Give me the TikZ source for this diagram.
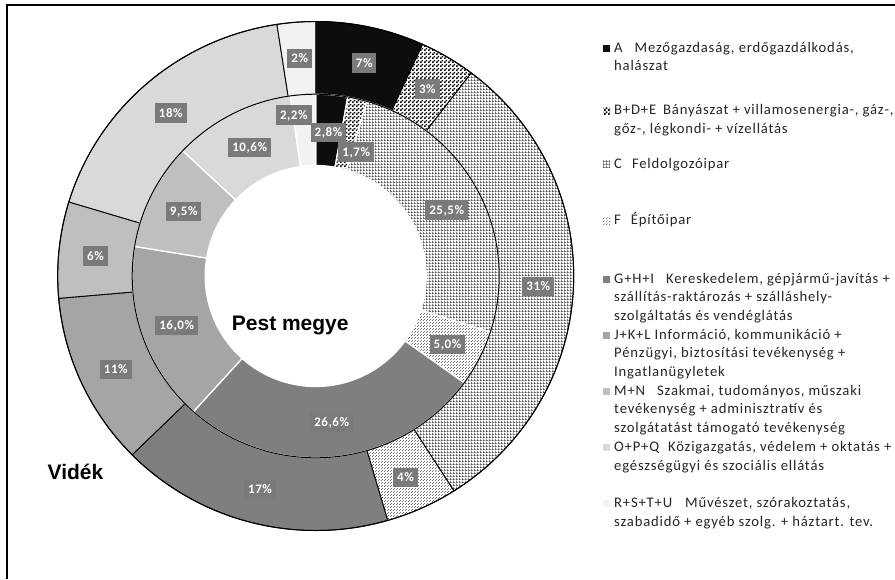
\documentclass[tikz,border=0pt]{standalone}
\usepackage{fontspec}
\setmainfont{Carlito}
\newfontfamily\legfont[LetterSpace=5.5]{Carlito}
\newfontfamily\lblfont[LetterSpace=4]{Carlito}
\newfontfamily\headfont{Liberation Sans}
\usetikzlibrary{patterns}

% fill patterns of the sectors
\pgfdeclarepatternformonly{chk}{\pgfpointorigin}{\pgfqpoint{4pt}{4pt}}{\pgfqpoint{4pt}{4pt}}{%
  \pgfpathrectangle{\pgfpointorigin}{\pgfqpoint{2pt}{2pt}}%
  \pgfpathrectangle{\pgfqpoint{2pt}{2pt}}{\pgfqpoint{2pt}{2pt}}%
  \pgfusepath{fill}}
\pgfdeclarepatternformonly{fgrid}{\pgfpointorigin}{\pgfqpoint{3pt}{3pt}}{\pgfqpoint{3pt}{3pt}}{%
  \pgfpathrectangle{\pgfpointorigin}{\pgfqpoint{0.9pt}{3pt}}%
  \pgfpathrectangle{\pgfpointorigin}{\pgfqpoint{3pt}{0.9pt}}%
  \pgfusepath{fill}}
\pgfdeclarepatternformonly{fdots}{\pgfpointorigin}{\pgfqpoint{3pt}{3pt}}{\pgfqpoint{3pt}{3pt}}{%
  \pgfpathrectangle{\pgfpointorigin}{\pgfqpoint{1.1pt}{1.1pt}}%
  \pgfpathrectangle{\pgfqpoint{1.5pt}{1.5pt}}{\pgfqpoint{1.1pt}{1.1pt}}%
  \pgfusepath{fill}}

\definecolor{cA}{HTML}{0D0D0D}
\definecolor{cG}{HTML}{7F7F7F}
\definecolor{cJ}{HTML}{A5A5A5}
\definecolor{cM}{HTML}{BFBFBF}
\definecolor{cO}{HTML}{D9D9D9}
\definecolor{cR}{HTML}{F2F2F2}
\definecolor{lblgray}{HTML}{7A7A7A}
\definecolor{legtxt}{HTML}{262626}

% ring radii (x and y)
\newcommand\Rox{258}\newcommand\Roy{254.5}
\newcommand\Rmx{183.5}\newcommand\Rmy{181.8}
\newcommand\Rix{110.5}\newcommand\Riy{110.5}

% sector of the outer ring, from #1 % to #2 % clockwise from the top
\newcommand\videkseg[3]{\path[#3] ({90-3.6*(#1)}:\Rox\space and \Roy)
  arc[start angle={90-3.6*(#1)}, end angle={90-3.6*(#2)}, x radius=\Rox, y radius=\Roy]
  -- ({90-3.6*(#2)}:\Rmx\space and \Rmy)
  arc[start angle={90-3.6*(#2)}, end angle={90-3.6*(#1)}, x radius=\Rmx, y radius=\Rmy] -- cycle;}
% sector of the inner ring
\newcommand\pestseg[3]{\path[#3] ({90-3.6*(#1)}:\Rmx\space and \Rmy)
  arc[start angle={90-3.6*(#1)}, end angle={90-3.6*(#2)}, x radius=\Rmx, y radius=\Rmy]
  -- ({90-3.6*(#2)}:\Rix\space and \Riy)
  arc[start angle={90-3.6*(#2)}, end angle={90-3.6*(#1)}, x radius=\Rix, y radius=\Riy] -- cycle;}

\begin{document}
\begin{tikzpicture}[x=1pt, y=1pt,
  fillA/.style={fill=cA},
  fillB/.style={preaction={fill=white}, pattern=chk, pattern color=black},
  fillC/.style={preaction={fill=white}, pattern=fgrid, pattern color=black!72},
  fillF/.style={preaction={fill=white}, pattern=fdots, pattern color=black!55},
  fillG/.style={fill=cG},
  fillJ/.style={fill=cJ},
  fillM/.style={fill=cM},
  fillO/.style={fill=cO},
  fillR/.style={fill=cR},
  outerline/.style={draw=black, line width=0.9pt, line join=round},
  innerline/.style={draw=white, line width=1.3pt, line join=round},
  lbl/.style={fill=lblgray, text=white, font=\lblfont\bfseries\fontsize{13}{15}\selectfont,
    inner xsep=4pt, inner ysep=0pt, minimum height=19.5pt, text height=8.2pt, text depth=0pt},
  legtext/.style={anchor=base west, inner sep=0pt, text=legtxt,
    font=\legfont\fontsize{14.67}{18.7}\selectfont},
  legmark/.style={minimum size=7pt, inner sep=0pt, draw=none},
  headtxt/.style={anchor=base west, inner sep=0pt,
    font=\headfont\bfseries\fontsize{21}{24}\selectfont}]

\useasboundingbox (0,0) rectangle (895,-579);
\fill[white] (0,0) rectangle (895,-579);

% frame
\draw[line width=2pt] (6.7,-579) -- (6.7,-5) -- (895,-5);

\begin{scope}[shift={(315.7,-276)}]
  % outer ring: Vidék
  \videkseg{0}{6.8}{fillA, outerline}
  \videkseg{6.8}{10.3}{fillB, outerline}
  \videkseg{10.3}{41.0}{fillC, outerline}
  \videkseg{41.0}{45.5}{fillF, outerline}
  \videkseg{45.5}{62.6}{fillG, outerline}
  \videkseg{62.6}{73.6}{fillJ, outerline}
  \videkseg{73.6}{79.7}{fillM, outerline}
  \videkseg{79.7}{97.6}{fillO, outerline}
  \videkseg{97.6}{100}{fillR, outerline}
  % inner ring: Pest megye
  \pestseg{0}{2.8}{fillA, innerline}
  \pestseg{2.8}{4.5}{fillB, innerline}
  \pestseg{4.5}{30.0}{fillC, innerline}
  \pestseg{30.0}{35.0}{fillF, innerline}
  \pestseg{35.0}{61.6}{fillG, innerline}
  \pestseg{61.6}{77.6}{fillJ, innerline}
  \pestseg{77.6}{87.1}{fillM, innerline}
  \pestseg{87.1}{97.8}{fillO, innerline}
  \pestseg{97.8}{100}{fillR, innerline}
  % ring outlines
  \draw[line width=1pt] (0,0) ellipse [x radius=\Rmx, y radius=\Rmy];
  \draw[line width=1pt] (0,0) ellipse [x radius=\Rox, y radius=\Roy];
\end{scope}

% data labels, outer ring
\node[lbl] (vA) at (364.2,-63) {7\%};
\node[lbl] (vB) at (427.3,-89.2) {3\%};
\node[lbl] (vC) at (538.3,-286.7) {31\%};
\node[lbl] (vF) at (405.5,-477.5) {4\%};
\node[lbl] (vG) at (260,-489.3) {17\%};
\node[lbl] (vJ) at (115.8,-369.3) {11\%};
\node[lbl] (vM) at (95.5,-256) {6\%};
\node[lbl] (vO) at (170.8,-113) {18\%};
\node[lbl] (vR) at (299.7,-58.3) {2\%};
% data labels, inner ring
\node[lbl] (pA) at (328.5,-132.5) {2,8\%};
\node[lbl] (pB) at (356.2,-152.2) {1,7\%};
\node[lbl] (pC) at (446.7,-210) {25,5\%};
\node[lbl] (pF) at (447.5,-344.5) {5,0\%};
\node[lbl] (pG) at (331.7,-422.7) {26,6\%};
\node[lbl] (pJ) at (176.7,-325.5) {16,0\%};
\node[lbl] (pM) at (183.7,-211.7) {9,5\%};
\node[lbl] (pO) at (249.7,-147.3) {10,6\%};
\node[lbl] (pR) at (293.8,-115) {2,2\%};

% ring titles
\node[headtxt] (pest) at (231.7,-330) {Pest megye};
\node[headtxt] (videk) at (47.5,-479.3) {Vidék};

% legend
\node[legmark, fillA] (mA) at (606.5,-48) {};
\node[legtext] (tA1) at (614,-52) {A\hspace{12pt}Mezőgazdaság, erdőgazdálkodás,};
\node[legtext] (tA2) at (614,-70.7) {halászat};

\node[legmark, fillB] (mB) at (606.5,-110.7) {};
\node[legtext] (tB1) at (614,-114.7) {B+D+E\hspace{7pt}Bányászat + villamosenergia-, gáz-,};
\node[legtext] (tB2) at (614,-133.4) {gőz-, légkondi- + vízellátás};

\node[legmark, fillC] (mC) at (606.5,-164) {};
\node[legtext] (tC1) at (614,-168) {C\hspace{10pt}Feldolgozóipar};

\node[legmark, fillF] (mF) at (606.5,-220.7) {};
\node[legtext] (tF1) at (614,-224.7) {F\hspace{10pt}Építőipar};

\node[legmark, fillG] (mG) at (606.5,-279) {};
\node[legtext] (tG1) at (614,-283) {G+H+I\hspace{12pt}Kereskedelem, gépjármű-javítás +};
\node[legtext] (tG2) at (614,-301.7) {szállítás-raktározás + szálláshely-};
\node[legtext] (tG3) at (614,-320.4) {szolgáltatás és vendéglátás};

\node[legmark, fillJ] (mJ) at (606.5,-335.1) {};
\node[legtext] (tJ1) at (614,-339.1) {J+K+L Információ, kommunikáció +};
\node[legtext] (tJ2) at (614,-357.8) {Pénzügyi, biztosítási tevékenység +};
\node[legtext] (tJ3) at (614,-376.5) {Ingatlanügyletek};

\node[legmark, fillM] (mM) at (606.5,-391.2) {};
\node[legtext] (tM1) at (614,-395.2) {M+N\hspace{12pt}Szakmai, tudományos, műszaki};
\node[legtext] (tM2) at (614,-413.9) {tevékenység + adminisztratív és};
\node[legtext] (tM3) at (614,-432.6) {szolgátatást támogató tevékenység};

\node[legmark, fillO] (mO) at (606.5,-447.3) {};
\node[legtext] (tO1) at (614,-451.3) {O+P+Q\hspace{9pt}Közigazgatás, védelem + oktatás +};
\node[legtext] (tO2) at (614,-470) {egészségügyi és szociális ellátás};

\node[legmark, fillR] (mR) at (606.5,-503.4) {};
\node[legtext] (tR1) at (614,-507.4) {R+S+T+U\hspace{13pt}Művészet, szórakoztatás,};
\node[legtext] (tR2) at (614,-526.1) {szabadidő + egyéb szolg. + háztart. tev.};
\end{tikzpicture}
\end{document}
